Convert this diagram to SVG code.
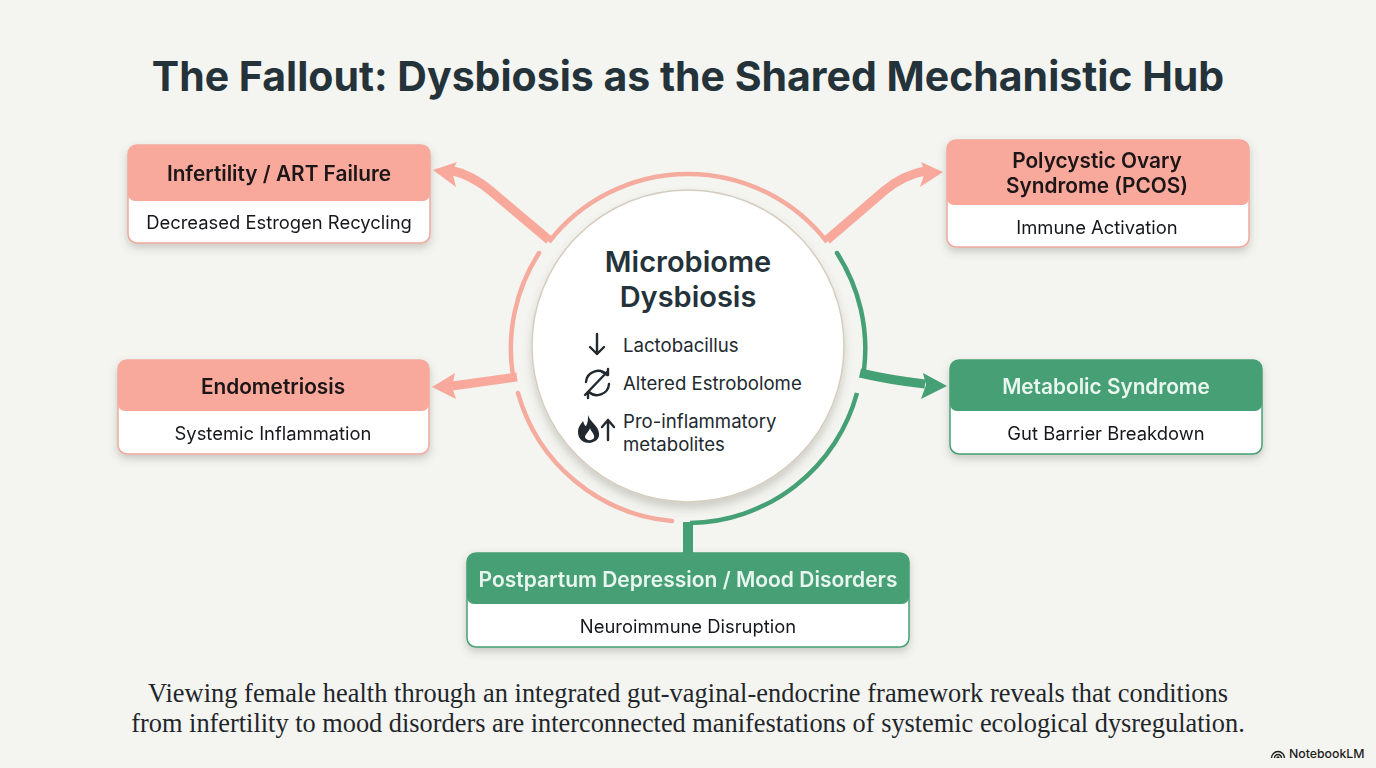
<svg xmlns="http://www.w3.org/2000/svg" width="1376" height="768" viewBox="0 0 1376 768">
<style>
text{font-family:Inter,"Noto Sans","Liberation Sans",sans-serif;text-anchor:middle}
.head{font-size:20.8px;font-weight:600;fill:#1c1418}
.headw{font-size:20.8px;font-weight:600;fill:#e9f6ef}
.sub{font-size:18.4px;fill:#17191c}
.item{font-size:18.6px;fill:#21292f;text-anchor:start}
.cap{font-family:"Liberation Serif",serif;font-size:26.35px;fill:#1f262b}
.pk{fill:#f8a99b}.gr{fill:#46a075}
.pa{fill:none;stroke:#f5ab9e;stroke-width:4.5;stroke-linecap:round}
.ga{fill:none;stroke:#46a075;stroke-width:4.5;stroke-linecap:round}
.ps{fill:none;stroke:#f8a99b;stroke-width:9}
.gs{fill:none;stroke:#46a075;stroke-width:9}
.ic{fill:none;stroke:#21292f;stroke-width:2.4;stroke-linecap:round;stroke-linejoin:round}
</style>
<defs>
<filter id="sh" x="-10%" y="-15%" width="120%" height="135%"><feDropShadow dx="0" dy="4" stdDeviation="4" flood-color="#5a5a50" flood-opacity="0.28"/></filter>
<filter id="shc" x="-10%" y="-10%" width="120%" height="125%"><feDropShadow dx="0" dy="6" stdDeviation="4" flood-color="#5a5a50" flood-opacity="0.25"/></filter>
</defs>
<rect width="1376" height="768" fill="#f4f4f0"/>
<text x="688" y="91" font-size="41" font-weight="700" fill="#24323a">The Fallout: Dysbiosis as the Shared Mechanistic Hub</text>

<g id="connectors">
<path class="pa" d="M549 242A176 176 0 0 1 827 242" style="stroke-linecap:butt"/>
<path class="pa" d="M539 253A176 176 0 0 0 513 376"/>
<path class="pa" d="M518 393A176 176 0 0 0 672 521"/>
<path class="ga" d="M837 253A176 176 0 0 1 864 370"/>
<path class="ga" d="M857 393A176 176 0 0 1 690 523" style="stroke-linecap:butt"/>
<path class="ps" d="M549 240L491 191Q472 175 450 170"/>
<polygon class="pk" points="433,170 457,162 452,171 456,187"/>
<path class="ps" d="M827 240L884 191Q903 175 925 171"/>
<polygon class="pk" points="943,172 921,162 925,172 920,187"/>
<path class="ps" d="M517 377L452 386"/>
<polygon class="pk" points="432,387 455,373 452,387 456,399"/>
<path class="gs" d="M860 373Q890 380 925 384"/>
<polygon class="gr" points="947,386 923,373 926,385 921,399"/>
<path class="gs" d="M688 522V554" style="stroke-width:10"/>
</g>

<g id="node-infertility" filter="url(#sh)">
<rect x="128" y="145" width="302" height="98" rx="9" fill="#fff" stroke="#f0a99c" stroke-width="1.5"/>
<path class="pk" d="M137 145H421a9 9 0 0 1 9 9V194a7 7 0 0 1 -7 7H135a7 7 0 0 1 -7 -7V154a9 9 0 0 1 9 -9Z"/>
<text class="head" x="279" y="181">Infertility / ART Failure</text>
<text class="sub" x="279" y="229">Decreased Estrogen Recycling</text>
</g>
<g id="node-endometriosis" filter="url(#sh)">
<rect x="118" y="360" width="311" height="94" rx="9" fill="#fff" stroke="#f0a99c" stroke-width="1.5"/>
<path class="pk" d="M127 360H420a9 9 0 0 1 9 9V404a7 7 0 0 1 -7 7H125a7 7 0 0 1 -7 -7V369a9 9 0 0 1 9 -9Z"/>
<text class="head" x="273" y="394">Endometriosis</text>
<text class="sub" x="273" y="440">Systemic Inflammation</text>
</g>
<g id="node-pcos" filter="url(#sh)">
<rect x="947" y="140" width="302" height="107" rx="9" fill="#fff" stroke="#f0a99c" stroke-width="1.5"/>
<path class="pk" d="M956 140H1240a9 9 0 0 1 9 9V198a7 7 0 0 1 -7 7H954a7 7 0 0 1 -7 -7V149a9 9 0 0 1 9 -9Z"/>
<text class="head" x="1097" y="168">Polycystic Ovary</text>
<text class="head" x="1097" y="193">Syndrome (PCOS)</text>
<text class="sub" x="1097" y="234">Immune Activation</text>
</g>
<g id="node-metabolic" filter="url(#sh)">
<rect x="950" y="360" width="312" height="94" rx="9" fill="#fff" stroke="#46a075" stroke-width="1.5"/>
<path class="gr" d="M959 360H1253a9 9 0 0 1 9 9V404a7 7 0 0 1 -7 7H957a7 7 0 0 1 -7 -7V369a9 9 0 0 1 9 -9Z"/>
<text class="headw" x="1106" y="394">Metabolic Syndrome</text>
<text class="sub" x="1106" y="440">Gut Barrier Breakdown</text>
</g>
<g id="node-postpartum" filter="url(#sh)">
<rect x="467" y="553" width="442" height="94" rx="9" fill="#fff" stroke="#46a075" stroke-width="1.5"/>
<path class="gr" d="M476 553H900a9 9 0 0 1 9 9V597a7 7 0 0 1 -7 7H474a7 7 0 0 1 -7 -7V562a9 9 0 0 1 9 -9Z"/>
<text class="headw" x="688" y="587" style="font-size:21px">Postpartum Depression / Mood Disorders</text>
<text class="sub" x="688" y="633">Neuroimmune Disruption</text>
</g>

<g id="node-hub">
<circle cx="688" cy="346" r="156" fill="#fff" stroke="#d6cdbf" stroke-width="1.5" filter="url(#shc)"/>
<text x="688" y="272" font-size="29" font-weight="600" fill="#24323a">Microbiome</text>
<text x="688" y="307" font-size="29" font-weight="600" fill="#24323a">Dysbiosis</text>
<path class="ic" d="M597 334V354M590 347L597 354L604 347"/>
<path class="ic" d="M586 382A12 12 0 0 1 607 375M609 384A12 12 0 0 1 589 392M602 372L608 375L608 369M594 395L588 392L588 398M585 395L608 371"/>
<path fill="#21292f" d="M588 415C590 422 598 425 599 433C600 439 595 442 590 443C584 443 578 440 578 432C578 427 581 424 583 421C584 424 585 426 586 426C588 423 588 419 588 415Z"/>
<path fill="#fff" d="M590 428C591 432 595 434 594 438C592 441 586 441 585 437C585 434 589 432 590 428Z"/>
<path class="ic" d="M608 440V420M602 427L608 420L614 427"/>
<text class="item" x="623" y="352">Lactobacillus</text>
<text class="item" x="623" y="390">Altered Estrobolome</text>
<text class="item" x="623" y="428">Pro-inflammatory</text>
<text class="item" x="623" y="451">metabolites</text>
</g>

<text class="cap" x="688" y="702" textLength="1080">Viewing female health through an integrated gut-vaginal-endocrine framework reveals that conditions</text>
<text class="cap" x="688" y="732">from infertility to mood disorders are interconnected manifestations of systemic ecological dysregulation.</text>

<path d="M1271.500 758a6.500 6.500 0 0 1 13 0M1274.500 758a3.500 3.500 0 0 1 7 0M1277 758a1 1 0 0 1 2 0" fill="none" stroke="#1c1c1c" stroke-width="1.400"/>
<text x="1289" y="758" font-size="12.300" font-weight="500" fill="#1c1c1c" style="text-anchor:start">NotebookLM</text>
</svg>
